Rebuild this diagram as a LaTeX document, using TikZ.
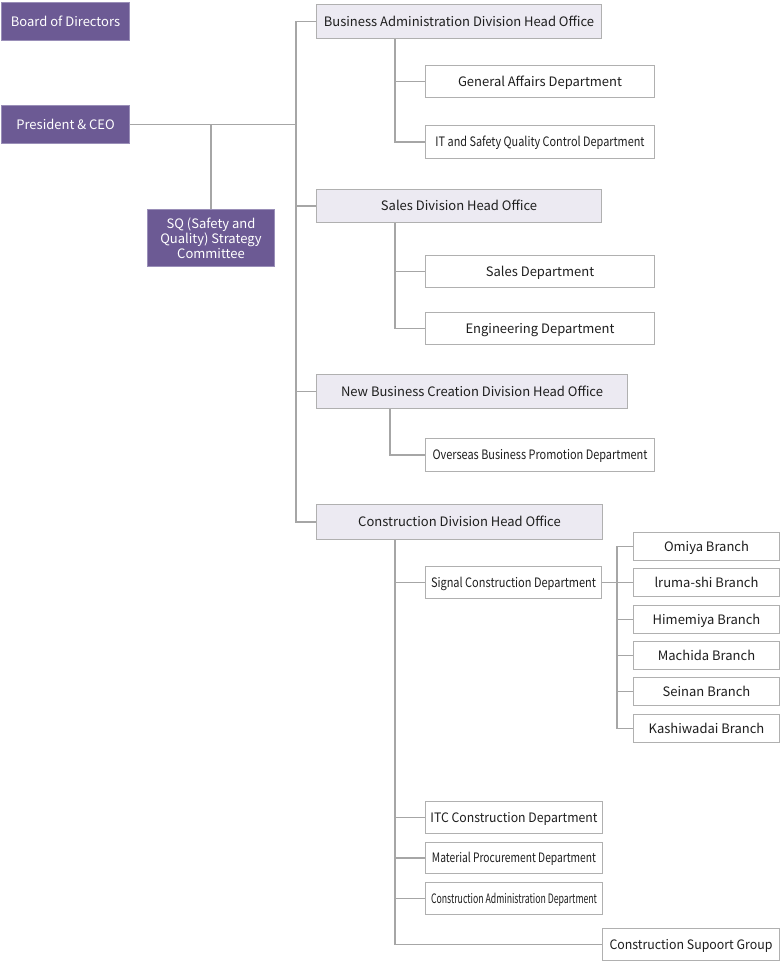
\documentclass[tikz,border=0pt]{standalone}
\usepackage{fontspec}
\setmainfont{Noto Sans CJK JP}
\usepackage{graphicx}
\definecolor{purp}{HTML}{6C5A94}
\definecolor{purpedge}{HTML}{9A8FB8}
\definecolor{lav}{HTML}{ECEAF2}
\definecolor{boxedge}{HTML}{B0B0B0}
\definecolor{linec}{HTML}{A6A6A6}
\definecolor{txt}{HTML}{1E1E1E}
\newcommand{\cnd}[2]{\resizebox{#1pt}{\height}{#2}}
\begin{document}
\begin{tikzpicture}[x=1pt,y=-1pt,
  base/.style={rectangle, inner sep=0pt, anchor=north west, align=center, font=\fontsize{13}{15}\selectfont, line width=1pt},
  oneline/.style={text height=1.0em, text depth=0.08em},
  exec/.style={base, fill=purp, draw=purpedge, text=white},
  head/.style={base, oneline, fill=lav, draw=boxedge, text=txt},
  dept/.style={base, oneline, fill=white, draw=boxedge, text=txt},
  conn/.style={draw=linec, line width=1.3pt}]
\useasboundingbox (0,0) rectangle (781,970);

% executive
\node[exec, oneline, minimum width=128, minimum height=38] (bod) at (1,2) {Board of Directors};
\node[exec, oneline, minimum width=128, minimum height=38] (pres) at (1,105) {President \& CEO};
\node[exec, minimum width=127, minimum height=57, font=\fontsize{13}{15}\selectfont] (sq) at (147,209) {SQ (Safety and\\Quality) Strategy\\Committee};

% head offices
\node[head, minimum width=285, minimum height=34] (bado) at (316,4) {Business Administration Division Head Office};
\node[head, minimum width=285, minimum height=33] (sdho) at (316,189) {Sales Division Head Office};
\node[head, minimum width=311, minimum height=34] (nbho) at (316,374) {New Business Creation Division Head Office};
\node[head, minimum width=286, minimum height=35] (cdho) at (316,504) {Construction Division Head Office};

% departments
\node[dept, minimum width=229, minimum height=32] (ga) at (425,65) {General Affairs Department};
\node[dept, minimum width=229, minimum height=33] (itsq) at (425,125) {\cnd{209}{IT and Safety Quality Control Department}};
\node[dept, minimum width=229, minimum height=32] (sd) at (425,255) {Sales Department};
\node[dept, minimum width=229, minimum height=32] (ed) at (425,312) {Engineering Department};
\node[dept, minimum width=229, minimum height=33] (obp) at (425,438) {\cnd{215}{Overseas Business Promotion Department}};
\node[dept, minimum width=176, minimum height=32] (scd) at (425,566) {\cnd{165}{Signal Construction Department}};
\node[dept, minimum width=177, minimum height=32] (itc) at (425,801) {\cnd{167}{ITC Construction Department}};
\node[dept, minimum width=177, minimum height=31] (mpd) at (425,842) {\cnd{164}{Material Procurement Department}};
\node[dept, minimum width=177, minimum height=32] (cad) at (425,882) {\cnd{166}{Construction Administration Department}};
\node[dept, minimum width=177, minimum height=32] (csg) at (602,928) {\cnd{163}{Construction Supoort Group}};

% branches
\node[dept, minimum width=146, minimum height=28] (br1) at (633,532) {Omiya Branch};
\node[dept, minimum width=146, minimum height=28] (br2) at (633,568) {lruma-shi Branch};
\node[dept, minimum width=146, minimum height=28] (br3) at (633,605) {Himemiya Branch};
\node[dept, minimum width=146, minimum height=28] (br4) at (633,641) {Machida Branch};
\node[dept, minimum width=146, minimum height=28] (br5) at (633,677) {Seinan Branch};
\node[dept, minimum width=146, minimum height=28] (br6) at (633,714) {Kashiwadai Branch};

% helper x positions
\coordinate (tx) at (296,0);
\coordinate (vx) at (395,0);
\coordinate (nx) at (390,0);
\coordinate (bx) at (617,0);

% trunk
\draw[conn] (bado.west) -- (tx |- bado.west) -- (tx |- cdho.west) -- (cdho.west);
\draw[conn] (pres.east) -- (tx |- pres.east);
\draw[conn] (sq.north) -- (sq.north |- pres.east);
\draw[conn] (sdho.west) -- (tx |- sdho.west);
\draw[conn] (nbho.west) -- (tx |- nbho.west);

% business administration
\draw[conn] (vx |- bado.south) |- (itsq.west);
\draw[conn] (vx |- ga.west) -- (ga.west);
% sales
\draw[conn] (vx |- sdho.south) |- (ed.west);
\draw[conn] (vx |- sd.west) -- (sd.west);
% new business
\draw[conn] (nx |- nbho.south) |- (obp.west);
% construction
\draw[conn] (vx |- cdho.south) |- (csg.west);
\draw[conn] (vx |- scd.west) -- (scd.west);
\draw[conn] (vx |- itc.west) -- (itc.west);
\draw[conn] (vx |- mpd.west) -- (mpd.west);
\draw[conn] (vx |- cad.west) -- (cad.west);
% branches
\draw[conn] (br1.west) -- (bx |- br1.west) -- (bx |- br6.west) -- (br6.west);
\draw[conn] (scd.east) -- (br2.west);
\draw[conn] (bx |- br3.west) -- (br3.west);
\draw[conn] (bx |- br4.west) -- (br4.west);
\draw[conn] (bx |- br5.west) -- (br5.west);
\end{tikzpicture}
\end{document}
